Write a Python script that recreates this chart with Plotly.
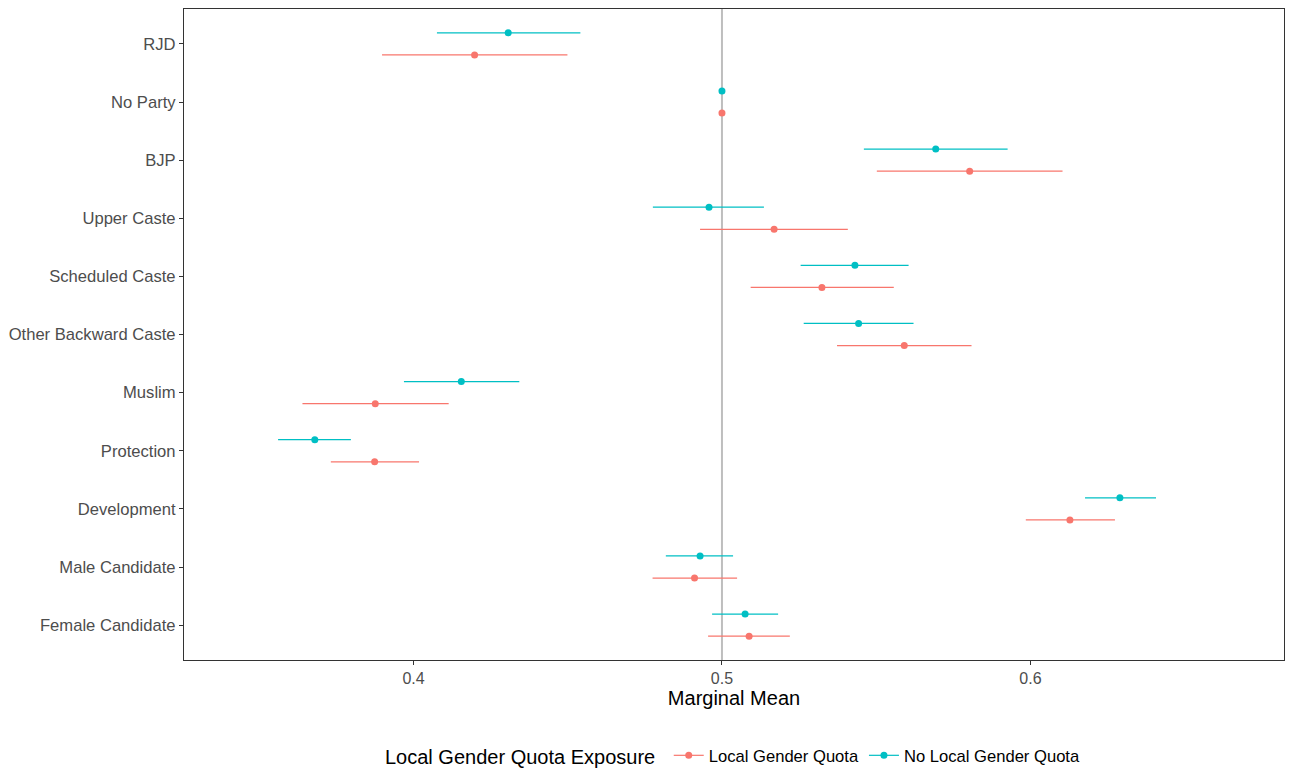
import plotly.graph_objects as go

categories = ["RJD", "No Party", "BJP", "Upper Caste", "Scheduled Caste",
              "Other Backward Caste", "Muslim", "Protection", "Development",
              "Male Candidate", "Female Candidate"]

# Local Gender Quota (red)
quota_est = [0.4198, 0.5000, 0.5803, 0.5169, 0.5324, 0.5591, 0.3876, 0.3874, 0.6128, 0.4911, 0.5088]
quota_lo  = [0.3898, 0.5000, 0.5502, 0.4929, 0.5093, 0.5373, 0.3640, 0.3732, 0.5985, 0.4775, 0.4955]
quota_hi  = [0.4499, 0.5000, 0.6104, 0.5408, 0.5557, 0.5809, 0.4114, 0.4018, 0.6274, 0.5049, 0.5220]

# No Local Gender Quota (teal)
noquota_est = [0.4307, 0.5000, 0.5693, 0.4958, 0.5431, 0.5443, 0.4155, 0.3680, 0.6290, 0.4929, 0.5075]
noquota_lo  = [0.4076, 0.5000, 0.5460, 0.4776, 0.5255, 0.5265, 0.3969, 0.3561, 0.6177, 0.4818, 0.4968]
noquota_hi  = [0.4541, 0.5000, 0.5926, 0.5136, 0.5605, 0.5621, 0.4343, 0.3797, 0.6407, 0.5036, 0.5182]

x_ticks = [0.4, 0.5, 0.6]
x_tick_labels = ["0.4", "0.5", "0.6"]

RED = "#F8766D"
TEAL = "#00BFC4"
n = len(categories)
ypos = [n - i for i in range(n)]
dodge = 0.19

fig = go.Figure()

def add_series(est, lo, hi, color, offset, name):
    fig.add_trace(go.Scatter(
        x=est, y=[y + offset for y in ypos], mode="markers",
        marker=dict(color=color, size=7),
        error_x=dict(type="data", symmetric=False,
                     array=[h - e for h, e in zip(hi, est)],
                     arrayminus=[e - l for e, l in zip(est, lo)],
                     color=color, thickness=1.2, width=0),
        showlegend=False, hoverinfo="x+name", name=name))
    fig.add_trace(go.Scatter(
        x=[None], y=[None], mode="lines+markers", name=name,
        line=dict(color=color, width=1.2),
        marker=dict(color=color, size=7)))

add_series(quota_est, quota_lo, quota_hi, RED, -dodge, "Local Gender Quota")
add_series(noquota_est, noquota_lo, noquota_hi, TEAL, dodge, "No Local Gender Quota")

fig.add_shape(type="line", xref="x", yref="paper", x0=0.5, x1=0.5, y0=0, y1=1,
              line=dict(color="#BEBEBE", width=2), layer="below")

fig.update_layout(
    width=1289, height=768,
    margin=dict(l=184, r=5, t=9, b=108, autoexpand=False),
    plot_bgcolor="white", paper_bgcolor="white",
    font=dict(family="Liberation Sans, Arial, sans-serif", size=16, color="#4D4D4D"),
    xaxis=dict(range=[0.3256, 0.6822], tickvals=x_ticks, ticktext=x_tick_labels,
               showgrid=False, zeroline=False, showline=True, mirror=True,
               linecolor="#333333", linewidth=1.2, ticks="outside", ticklen=4,
               tickcolor="#333333", tickfont=dict(size=16, color="#4D4D4D"),
               title=dict(text="Marginal Mean", font=dict(size=20, color="black"), standoff=4)),
    yaxis=dict(range=[0.4, n + 0.6], tickvals=ypos, ticktext=categories,
               showgrid=False, zeroline=False, showline=True, mirror=True,
               linecolor="#333333", linewidth=1.2, ticks="outside", ticklen=4,
               tickcolor="#333333", tickfont=dict(size=16.6, color="#4D4D4D")),
    legend=dict(orientation="h", x=0.5, xanchor="center", y=-0.1475, yanchor="middle",
                title=dict(text="Local Gender Quota Exposure ", font=dict(size=20, color="black"), side="left"),
                font=dict(size=16.6, color="black"), itemwidth=30),
)

fig.write_html("out.html")
